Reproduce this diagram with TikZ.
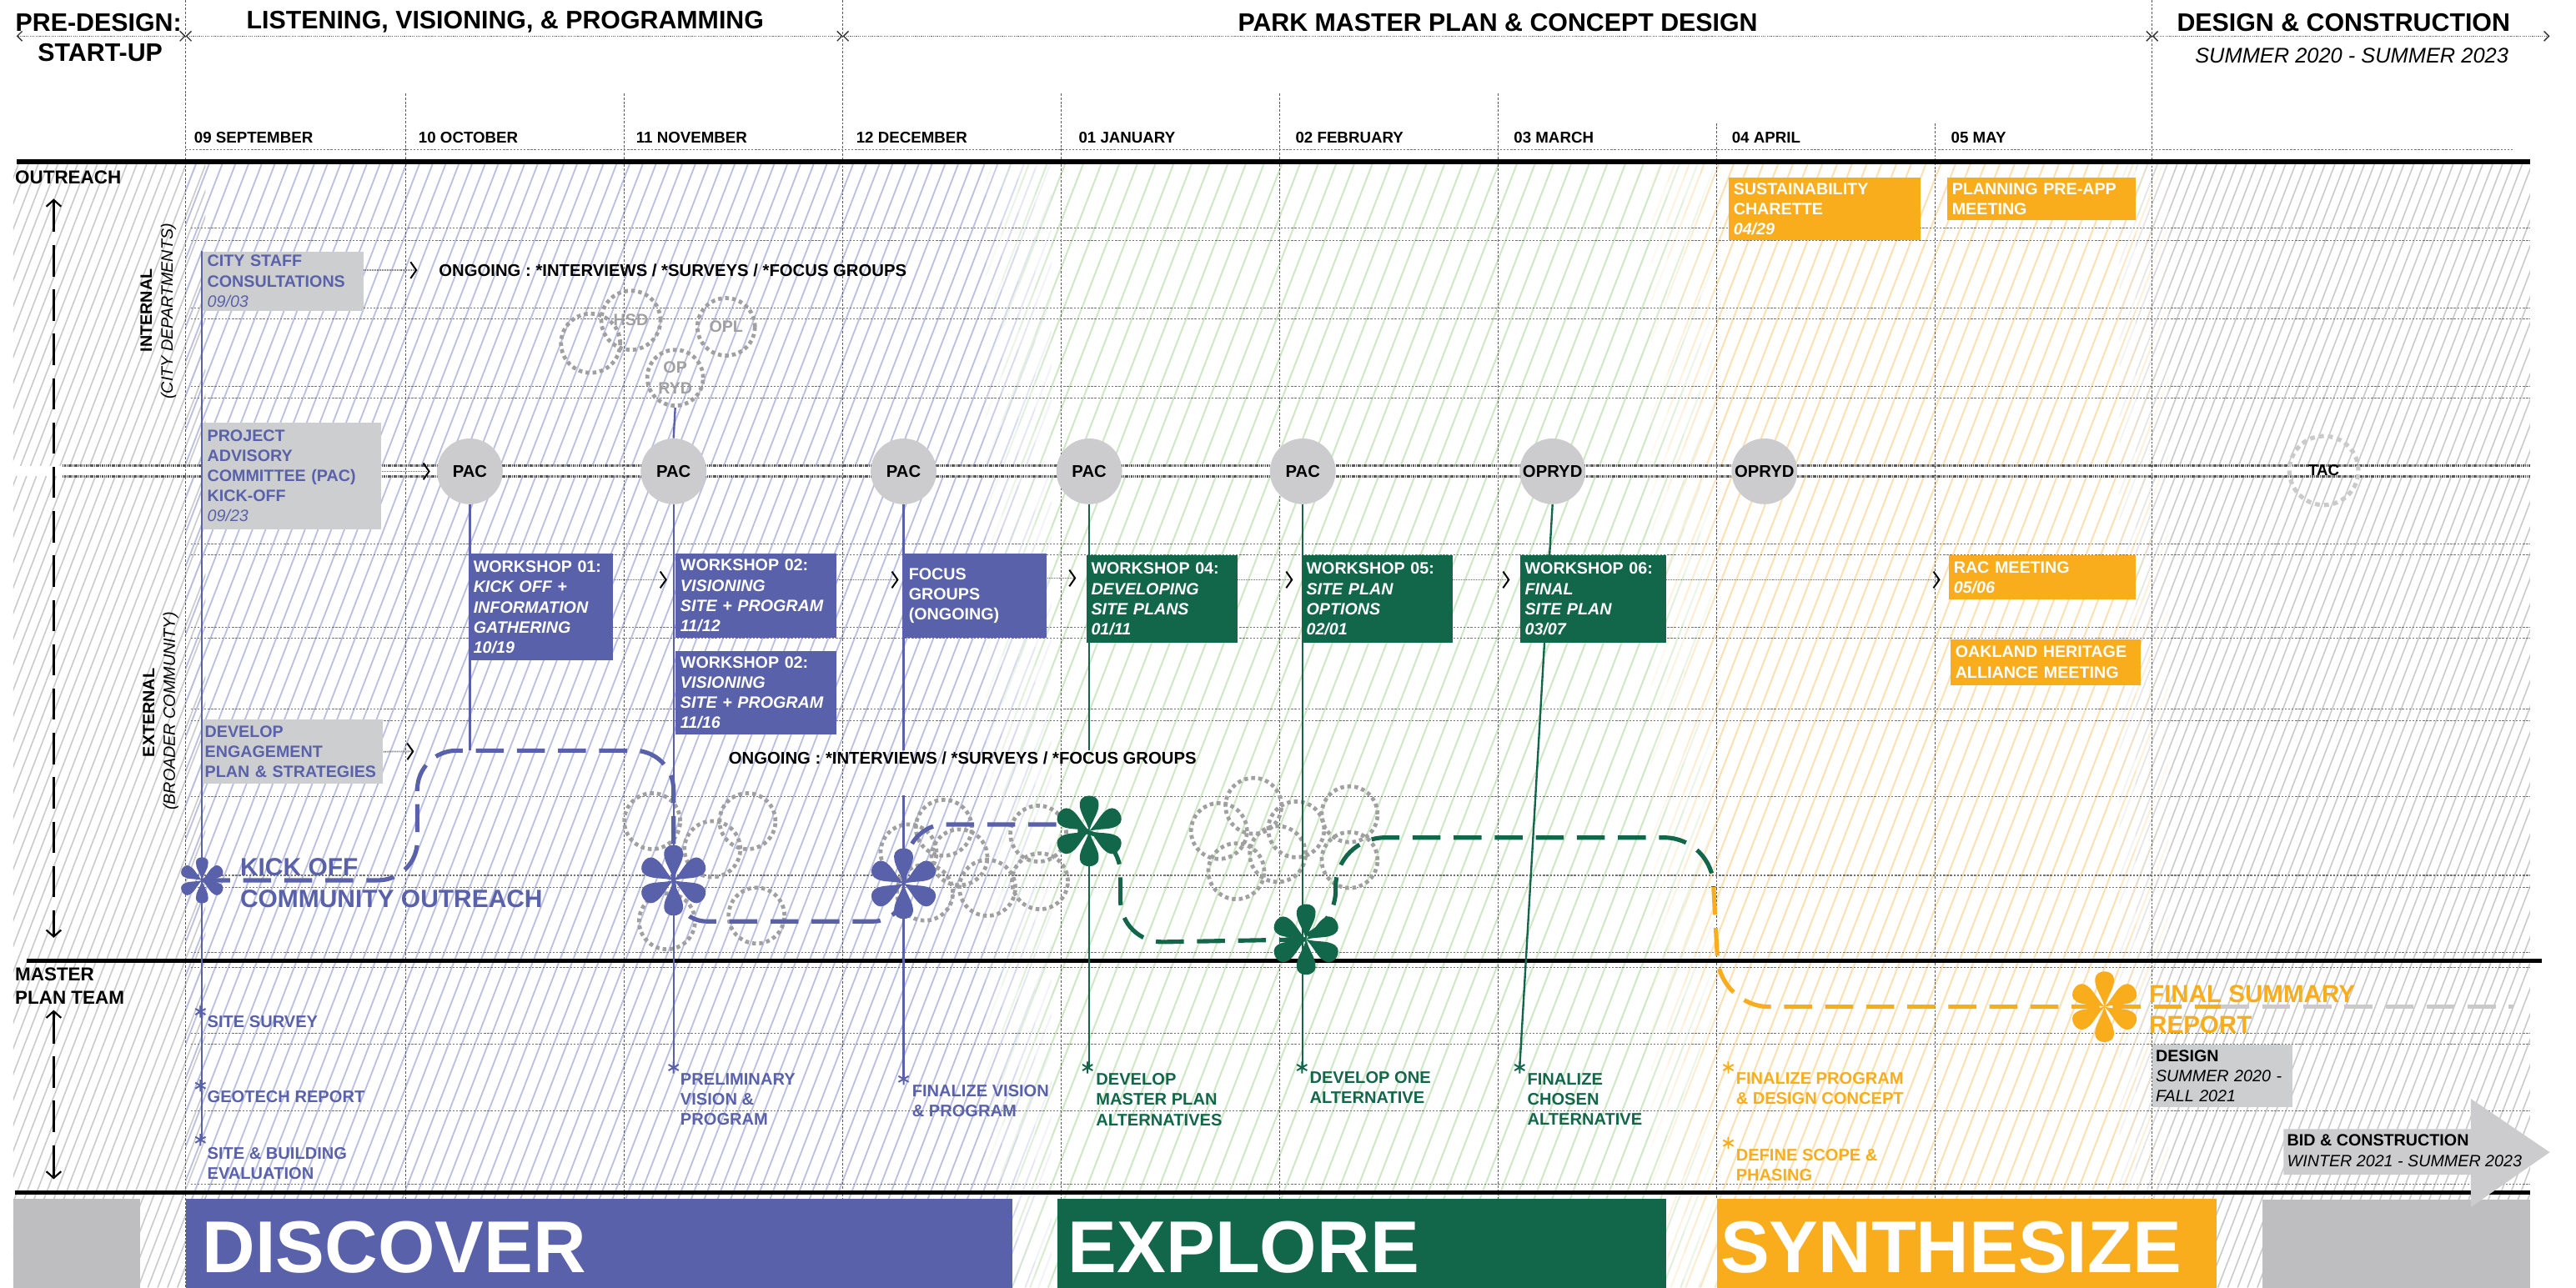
\documentclass[tikz,border=0pt]{standalone}
\usepackage{fontspec}
\setmainfont{Liberation Sans}
\usetikzlibrary{arrows.meta,calc}
\definecolor{purp}{RGB}{89,97,170}
\definecolor{dgrn}{RGB}{18,103,74}
\definecolor{orng}{RGB}{249,173,29}
\definecolor{boxg}{RGB}{205,206,208}
\definecolor{bandg}{RGB}{190,190,192}
\definecolor{pacg}{RGB}{204,204,206}
\definecolor{hblue}{RGB}{186,190,227}
\definecolor{hgrn}{RGB}{206,231,196}
\definecolor{horng}{RGB}{252,224,178}
\definecolor{hgray}{RGB}{202,202,202}
\definecolor{bubg}{RGB}{160,160,160}
\newcommand\fs[2]{\fontsize{#1}{#2}\selectfont}
\newcommand\hatchfill[6]{%
 \begin{scope}
 \clip (#1,98) rectangle (#2,784);
 \pgfmathsetmacro\hxs{floor((#1-264)/#3)*#3}
 \pgfmathtruncatemacro\hnn{(#2-\hxs)/#3+1}
 \foreach \k in {0,...,\hnn}{\draw[#4, line width=#5, opacity=#6] ({\hxs+\k*#3},784) -- ++(264,-686);}
 \end{scope}}
\newcommand\petals[4]{%
 \begin{scope}[shift={(#1,#2)}]
 \foreach \a in {30,90,150,210,270,330}{%
  \fill[#4, rotate=\a, scale=#3] (0,0) .. controls (0.3,0.08) and (0.5,0.27) .. (0.74,0.25) .. controls (1.0,0.23) and (1.0,-0.23) .. (0.74,-0.25) .. controls (0.5,-0.27) and (0.3,-0.08) .. (0,0) -- cycle;}
 \end{scope}}
\newcommand\astk[3]{\draw[#3, line width=1pt] (#1,#2) +(0,-3.6) -- +(0,3.6) +(-3.1,-1.8) -- +(3.1,1.8) +(-3.1,1.8) -- +(3.1,-1.8);}
\begin{document}
\begin{tikzpicture}[x=1pt,y=-1pt,
 hdr/.style={font=\fs{15.4}{17}\bfseries, inner sep=0pt},
 month/.style={font=\fs{9.5}{11}\bfseries, inner sep=0pt, anchor=west},
 vline/.style={black!65, line width=0.5pt, dash pattern=on 1.4pt off 1pt},
 hline/.style={black!55, line width=0.55pt, dash pattern=on 1.2pt off 0.9pt},
 dline/.style={black!65, line width=1.4pt, dash pattern=on 0.8pt off 0.4pt},
 thk/.style={black, line width=2.6pt},
 tbox/.style={anchor=north west, inner xsep=3pt, inner ysep=0pt, align=left, font=\fs{10}{12.3}\bfseries},
 pac/.style={circle, fill=pacg, minimum size=40pt, inner sep=0pt, font=\fs{10.3}{12}\bfseries},
 bub/.style={circle, draw=bubg, line width=2.4pt, dash pattern=on 2.3pt off 2pt, inner sep=0pt, text=bubg, font=\fs{10}{12.5}\bfseries, align=center},
 bubc/.style={draw=bubg, line width=2.4pt, dash pattern=on 2.3pt off 2pt},
 arr/.style={black!60, line width=0.9pt, dash pattern=on 0.5pt off 0.5pt, -{Straight Barb[length=3.5pt,width=10pt,line width=1pt,color=black]}},
 hdrarr/.style={black!60, line width=0.7pt, dash pattern=on 0.6pt off 0.6pt, {Straight Barb[length=3pt,width=6pt,line width=0.7pt,color=black!80]}-{Straight Barb[length=3pt,width=6pt,line width=0.7pt,color=black!80]}},
 ldash/.style={black, line width=1.3pt, dash pattern=on 19pt off 8pt, {Straight Barb[length=4pt,width=9pt,line width=1.1pt]}-{Straight Barb[length=4pt,width=9pt,line width=1.1pt]}},
 pathd/.style={line width=2.6pt, dash pattern=on 17pt off 8pt},
 vcol/.style={line width=1.2pt},
 lab/.style={font=\fs{10.2}{12.3}\bfseries, inner sep=0pt, align=left},
 bandbx/.style={anchor=north west, inner ysep=0pt, minimum height=60pt, align=left, text=white, font=\fs{44.7}{50}\bfseries}
]
\useasboundingbox (0,0) rectangle (1568,784);
\fill[white] (0,0) rectangle (1568,784);

% ---------- hatching (with soft transitions) ----------
\hatchfill{8}{125}{6}{hgray}{0.8pt}{1}
\hatchfill{113}{600}{8}{hblue}{0.9pt}{1}
\foreach \a/\o in {600/0.8,610/0.6,620/0.4,630/0.2} {\hatchfill{\a}{\a+10}{8}{hblue}{0.9pt}{\o}}
\foreach \a/\o in {600/0.2,610/0.4,620/0.6,630/0.8} {\hatchfill{\a}{\a+10}{11}{hgrn}{1pt}{\o}}
\hatchfill{640}{1005}{11}{hgrn}{1pt}{1}
\foreach \a/\o in {1005/0.8,1015/0.6,1025/0.4,1035/0.2} {\hatchfill{\a}{\a+10}{11}{hgrn}{1pt}{\o}}
\foreach \a/\o in {1005/0.2,1015/0.4,1025/0.6,1035/0.8} {\hatchfill{\a}{\a+10}{9}{horng}{1pt}{\o}}
\hatchfill{1045}{1290}{9}{horng}{1pt}{1}
\foreach \a/\o in {1290/0.75,1300/0.5,1310/0.25} {\hatchfill{\a}{\a+10}{9}{horng}{1pt}{\o}}
\foreach \a/\o in {1290/0.25,1300/0.5,1310/0.75} {\hatchfill{\a}{\a+10}{6}{hgray}{0.8pt}{\o}}
\hatchfill{1320}{1540}{6}{hgray}{0.8pt}{1}
\fill[white] (8,283.5) rectangle (1540,290);

% ---------- grid ----------
\foreach \x in {113,513,1310} \draw[vline] (\x,0) -- (\x,784);
\foreach \x in {247,380,646,779,912} \draw[vline] (\x,57) -- (\x,730);
\foreach \x in {1045,1178} \draw[vline] (\x,75) -- (\x,730);
\draw[hline] (113,91) -- (1530,91);
\foreach \y in {139,146.5,187.5,194.3,235.3,242.4,331,337.8,382,388.5,431.8,438.9,484.8,533,540.5,580,589,629,635.8,676.5,721}
  \draw[hline] (116,\y) -- (1540,\y);
\coordinate (h0) at (10,22); \coordinate (h1) at (113,22); \coordinate (h2) at (513,22);
\coordinate (h3) at (1310,22); \coordinate (h4) at (1552,22);
\draw[hdrarr] (h0) -- (h1); \draw[hdrarr] (h1) -- (h2); \draw[hdrarr] (h2) -- (h3); \draw[hdrarr] (h3) -- (h4);
\draw[dline] (38,283.5) -- (1540,283.5);
\draw[dline] (38,290) -- (1540,290);
\draw[thk] (10,98.5) -- (1540,98.5);
\draw[thk] (16,585) -- (1547,585);
\draw[thk] (9,726) -- (1540,726);

% ---------- header ----------
\node[hdr] (tpre) at (60,13.5) {PRE-DESIGN:};
\node[hdr] (tstart) at (61,32) {START-UP};
\node[hdr] (tlisten) at (307.5,13.5) {LISTENING, VISIONING, \& PROGRAMMING};
\node[hdr] (tpark) at (911.7,13.5) {PARK MASTER PLAN \& CONCEPT DESIGN};
\node[hdr] (tdc) at (1426.5,13.5) {DESIGN \& CONSTRUCTION};
\node[font=\fs{12.9}{14}\itshape, inner sep=0pt] (tsum) at (1431.5,33.8) {SUMMER 2020 - SUMMER 2023};
\node[month] (m09) at (118,84) {09 SEPTEMBER};
\node[month] (m10) at (254.6,84) {10 OCTOBER};
\node[month] (m11) at (387,84) {11 NOVEMBER};
\node[month] (m12) at (521,84) {12 DECEMBER};
\node[month] (m01) at (656.4,84) {01 JANUARY};
\node[month] (m02) at (788.4,84) {02 FEBRUARY};
\node[month] (m03) at (921.3,84) {03 MARCH};
\node[month] (m04) at (1054,84) {04 APRIL};
\node[month] (m05) at (1187.4,84) {05 MAY};

% ---------- left column ----------
\node[font=\fs{11.4}{14.2}\bfseries, inner sep=0pt, anchor=west] (lout) at (9,108) {OUTREACH};
\node[font=\fs{11.4}{14.2}\bfseries, inner sep=0pt, anchor=north west, align=left] (lmpt) at (9,588.9) {MASTER\\PLAN TEAM};
\node[rotate=90, font=\fs{10}{12}\bfseries, inner sep=0pt] (lint) at (89,189) {INTERNAL};
\node[rotate=90, font=\fs{10}{12}\itshape, inner sep=0pt] (lintc) at (102.5,189.5) {(CITY DEPARTMENTS)};
\node[rotate=90, font=\fs{10}{12}\bfseries, inner sep=0pt] (lext) at (90.5,434) {EXTERNAL};
\node[rotate=90, font=\fs{10}{12}\itshape, inner sep=0pt] (lextc) at (104,433) {(BROADER COMMUNITY)};
\coordinate (la1) at (32.7,121); \coordinate (la2) at (32.7,571);
\coordinate (lb1) at (32.7,615); \coordinate (lb2) at (32.7,718);
\draw[ldash] (la1) -- (la2);
\draw[ldash] (lb1) -- (lb2);

% ---------- bubbles ----------
\draw[bubc] (359.5,209) circle[radius=18pt];
\node[bub, minimum size=36pt] (hsd) at (384,195) {HSD};
\node[bub, minimum size=35pt] (opl) at (442,199) {OPL};
\node[bub, minimum size=34pt] (oprydb) at (411,230) {OP\\RYD};
\foreach \p in {(397,500),(455,500),(433.6,517),(406,561),(460.5,557.5)} \draw[bubc] \p circle[radius=17pt];
\foreach \p in {(574.5,504),(553,519),(584,522),(632,507.6),(563,543.5),(601,540.6),(633,536.6)} \draw[bubc] \p circle[radius=17pt];
\foreach \p in {(742,506),(763,490.7),(821.5,495.8),(752.5,530.5),(777.7,520),(821.5,523.7),(789,505)} \draw[bubc] \p circle[radius=17pt];

% ---------- flower coordinates ----------
\coordinate (fk) at (123,536);
\coordinate (fnov) at (410,536);
\coordinate (fdec) at (550,538);
\coordinate (fjan) at (663,506);
\coordinate (fjanw) at (648,502);
\coordinate (ffeb) at (795,572);
\coordinate (ffin) at (1281,613);
\coordinate (gend) at (1043,540);
\coordinate (oend) at (1352,613);
\coordinate (gryend) at (1530,613);

% ---------- dashed paths ----------
\draw[pathd, purp, rounded corners=24pt] (fk) -- (254,536) -- (254,457) -- (410,457) -- (fnov);
\draw[pathd, purp, rounded corners=18pt] (fnov) -- (412,561) -- (550,561) -- (fdec);
\draw[pathd, purp, rounded corners=20pt] (fdec) -- (555,502) -- (fjanw);
\draw[pathd, dgrn, rounded corners=26pt] (fjan) -- (682,506) -- (682,574) -- (ffeb);
\draw[pathd, dgrn, rounded corners=30pt] (ffeb) -- (813,572) -- (813,510) -- (1043,510) -- (gend);
\draw[pathd, orng, rounded corners=30pt] (gend) -- (1047,613) -- (ffin) -- (oend);
\draw[pathd, hgray] (oend) -- (gryend);

% ---------- boxes ----------
\node[tbox, fill=boxg, text=purp, text width=92pt, minimum height=36pt] (city) at (123,153) {CITY STAFF\\CONSULTATIONS\\{\mdseries\itshape 09/03}};
\node[tbox, fill=boxg, text=purp, text width=103pt, minimum height=65pt] (pacbox) at (123,257) {PROJECT\\ADVISORY\\COMMITTEE (PAC)\\KICK-OFF\\{\mdseries\itshape 09/23}};
\node[tbox, fill=boxg, text=purp, text width=107pt, inner xsep=1.5pt, minimum height=39pt] (eng) at (123,438) {DEVELOP\\ENGAGEMENT\\\mbox{PLAN \& STRATEGIES}};

% vertical connector lines
\coordinate (octend) at (286,457);
\coordinate (novend) at (410,650);
\coordinate (dect) at (550,457); \coordinate (decb) at (550,484); \coordinate (decend) at (550,657);
\coordinate (jant) at (663,457); \coordinate (janend) at (663,650);
\coordinate (febend) at (793,650);
\coordinate (marend) at (925,650);
\coordinate (sepend) at (123,694);

\node[pac] (pac1) at (286,287) {PAC};
\node[pac] (pac2) at (410,287) {PAC};
\node[pac] (pac3) at (550,287) {PAC};
\node[pac] (pac4) at (663,287) {PAC};
\node[pac] (pac5) at (793,287) {PAC};
\node[pac] (opr1) at (945,287) {OPRYD};
\node[pac] (opr2) at (1074,287) {OPRYD};
\node[circle, draw=hgray, line width=2.6pt, dash pattern=on 3pt off 2.5pt, minimum size=42pt, inner sep=0pt, font=\fs{9.5}{11}\bfseries] (tac) at (1414.5,286.5) {TAC};

\draw[vcol, purp] (pac1.south) -- (octend);
\draw[vcol, purp] (oprydb.south) -- (pac2.north);
\draw[vcol, purp] (pac2.south) -- (novend);
\draw[vcol, purp] (pac3.south) -- (dect);
\draw[vcol, purp] (decb) -- (decend);
\draw[vcol, dgrn] (pac4.south) -- (jant);
\draw[vcol, dgrn] (fjan) -- (janend);
\draw[vcol, dgrn] (pac5.south) -- (febend);
\draw[vcol, dgrn] (opr1.south) -- (marend);
\draw[vcol, purp] (city.north west) -- (sepend);

\node[tbox, fill=purp, text=white, text width=82pt, minimum height=65pt] (w01) at (285,337) {WORKSHOP 01:\\\textit{KICK OFF +}\\\textit{INFORMATION}\\\textit{GATHERING}\\\textit{10/19}};
\node[tbox, fill=purp, text=white, text width=92pt, minimum height=51pt] (w02) at (411,337) {WORKSHOP 02:\\\textit{VISIONING}\\\textit{SITE + PROGRAM}\\\textit{11/12}};
\node[tbox, fill=purp, text=white, text width=92pt, minimum height=51pt] (w02b) at (411,396) {WORKSHOP 02:\\\textit{VISIONING}\\\textit{SITE + PROGRAM}\\\textit{11/16}};
\node[tbox, fill=purp, text=white, text width=81pt, minimum height=51pt] (focus) at (550,337) {FOCUS\\GROUPS\\(ONGOING)};
\node[tbox, fill=dgrn, text=white, text width=86pt, minimum height=53pt] (w04) at (661,338) {WORKSHOP 04:\\\textit{DEVELOPING}\\\textit{SITE PLANS}\\\textit{01/11}};
\node[tbox, fill=dgrn, text=white, text width=86pt, minimum height=53pt] (w05) at (792,338) {WORKSHOP 05:\\\textit{SITE PLAN}\\\textit{OPTIONS}\\\textit{02/01}};
\node[tbox, fill=dgrn, text=white, text width=83pt, minimum height=53pt] (w06) at (925,338) {WORKSHOP 06:\\\textit{FINAL}\\\textit{SITE PLAN}\\\textit{03/07}};
\node[tbox, fill=orng, text=white, text width=108pt, minimum height=27pt] (rac) at (1186,338) {RAC MEETING\\\textit{05/06}};
\node[tbox, fill=orng, text=white, text width=110pt, minimum height=28pt] (oak) at (1187,389) {OAKLAND HERITAGE\\ALLIANCE MEETING};
\node[tbox, fill=orng, text=white, text width=111pt, minimum height=38pt] (sust) at (1052,108) {SUSTAINABILITY\\CHARETTE\\\textit{04/29}};
\node[tbox, fill=orng, text=white, text width=109pt, minimum height=26pt] (plan) at (1185,108) {PLANNING PRE-APP\\MEETING};
\node[tbox, fill=boxg, text=black, text width=81pt, inner xsep=2pt, minimum height=38pt] (design) at (1310,636) {DESIGN\\{\mdseries\itshape SUMMER 2020 -}\\{\mdseries\itshape FALL 2021}};

% ---------- ongoing texts ----------
\node[font=\fs{10.3}{12}\bfseries, anchor=west, inner sep=0pt] (ong1) at (267,164.5) {ONGOING : *INTERVIEWS / *SURVEYS / *FOCUS GROUPS};
\node[font=\fs{10.3}{12}\bfseries, anchor=west, inner sep=0pt] (ong2) at (443.4,461.5) {ONGOING : *INTERVIEWS / *SURVEYS / *FOCUS GROUPS};

% ---------- arrows ----------
\coordinate (engtip) at (252,457.5);
\draw[arr, shorten >=13pt] (city.east |- ong1.west) -- (ong1.west);
\draw[arr, shorten >=4pt] (pacbox.east |- pac1.west) -- (pac1.west);
\draw[arr] (eng.east) -- (engtip);
\draw[arr, shorten >=5pt] ($(w01.north east)+(0,16)$) -- ($(w02.north west)+(0,16)$);
\draw[arr, shorten >=3pt] ($(w02.north east)+(0,16)$) -- ($(focus.north west)+(0,16)$);
\draw[arr, shorten >=6pt] ($(focus.north east)+(0,15)$) -- ($(w04.north west)+(0,14)$);
\draw[arr, shorten >=5pt] ($(w04.north east)+(0,15)$) -- ($(w05.north west)+(0,15)$);
\draw[arr, shorten >=6pt] ($(w05.north east)+(0,15)$) -- ($(w06.north west)+(0,15)$);
\draw[arr, shorten >=5pt] ($(w06.north east)+(0,15)$) -- ($(rac.north west)+(0,15)$);

% ---------- flowers ----------
\petals{123}{536}{15}{purp}
\petals{410}{536}{23}{purp}
\petals{550}{538}{23}{purp}
\petals{663}{506}{23}{dgrn}
\petals{795}{572}{23}{dgrn}
\petals{1281}{613}{23}{orng}

\node[font=\fs{15.2}{19}\bfseries, text=purp, anchor=north west, align=left, inner sep=0pt] (kick) at (146,522.6) {KICK OFF\\COMMUNITY OUTREACH};
\node[font=\fs{15}{19}\bfseries, text=orng, anchor=north west, align=left, inner sep=0pt] (final) at (1308,599.6) {FINAL SUMMARY\\REPORT};

% ---------- master plan team labels ----------
\astk{122}{616}{purp} \astk{122}{661}{purp} \astk{122}{694}{purp}
\astk{410}{650}{purp} \astk{550}{657}{purp}
\astk{662}{650}{dgrn} \astk{792.5}{650}{dgrn} \astk{925}{650}{dgrn}
\astk{1052}{650}{orng} \astk{1052}{696}{orng}
\node[lab, text=purp, anchor=west] (lsurvey) at (126,622) {SITE SURVEY};
\node[lab, text=purp, anchor=west] (lgeo) at (126,668) {GEOTECH REPORT};
\node[lab, text=purp, anchor=north west] (lsbe) at (126,698.4) {SITE \& BUILDING\\EVALUATION};
\node[lab, text=purp, anchor=north west] (lprelim) at (414,653.4) {PRELIMINARY\\VISION \&\\PROGRAM};
\node[lab, text=purp, anchor=north west] (lfinv) at (555,660.4) {FINALIZE VISION\\\& PROGRAM};
\node[lab, text=dgrn, anchor=north west] (ldev) at (667,653.4) {DEVELOP\\MASTER PLAN\\ALTERNATIVES};
\node[lab, text=dgrn, anchor=north west] (ldevone) at (797,652.4) {DEVELOP ONE\\ALTERNATIVE};
\node[lab, text=dgrn, anchor=north west] (lfinch) at (929.5,653.4) {FINALIZE\\CHOSEN\\ALTERNATIVE};
\node[lab, text=orng, anchor=north west] (lfinp) at (1056.5,652.9) {FINALIZE PROGRAM\\\& DESIGN CONCEPT};
\node[lab, text=orng, anchor=north west] (ldef) at (1056.5,699.4) {DEFINE SCOPE \&\\PHASING};

% ---------- bottom bands ----------
\node[anchor=north west, fill=bandg, minimum width=77pt, minimum height=55pt, inner sep=0pt] (bgl) at (8,729.5) {};
\node[anchor=north west, fill=bandg, minimum width=163pt, minimum height=55pt, inner sep=0pt] (bgr) at (1377,730) {};
\node[bandbx, fill=purp, text width=483pt, inner xsep=10pt] (bdisc) at (113,729.5) {DISCOVER};
\node[bandbx, fill=dgrn, text width=357.5pt, inner xsep=6.5pt] (bexpl) at (643.5,729.5) {EXPLORE};
\node[bandbx, fill=orng, text width=300pt, inner xsep=2pt] (bsyn) at (1045,729.5) {SYNTHESIZE};
\fill[pacg] (1390,687.5) -- (1504,687.5) -- (1504,669) -- (1552,701.6) -- (1504,735) -- (1504,715.3) -- (1390,715.3) -- cycle;
\node[font=\fs{10}{13}\bfseries, anchor=north west, align=left, inner sep=0pt] (bid) at (1392,690.4) {BID \& CONSTRUCTION\\{\mdseries\itshape WINTER 2021 - SUMMER 2023}};
\end{tikzpicture}
\end{document}
